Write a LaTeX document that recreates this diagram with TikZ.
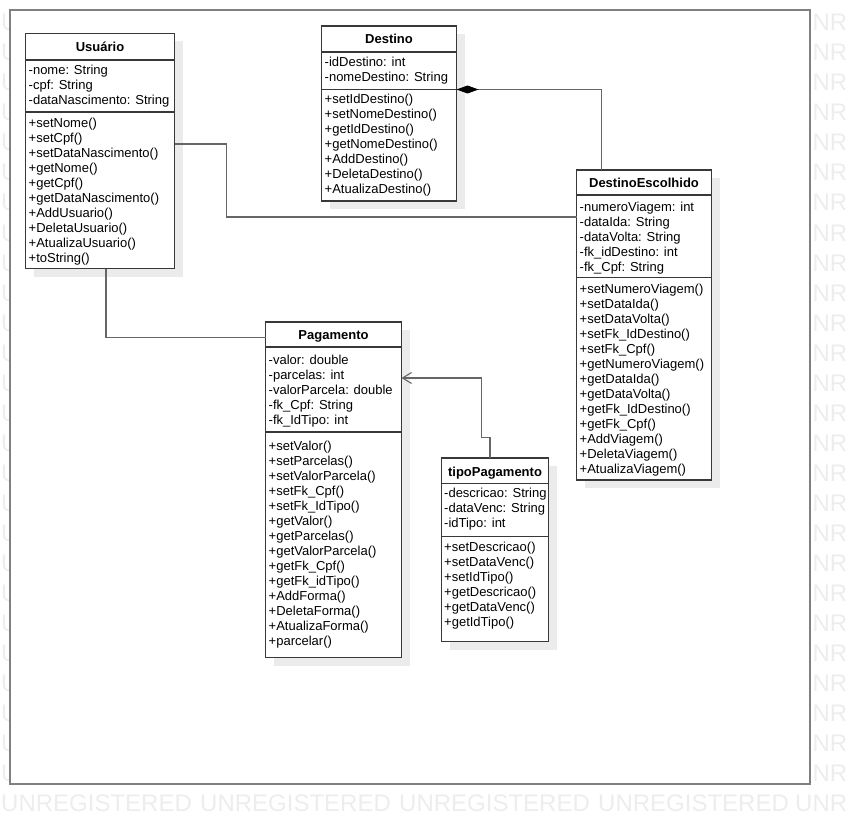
\documentclass[tikz,border=0pt]{standalone}
\usepackage{fontspec}
\setmainfont{Liberation Sans}
\usetikzlibrary{arrows.meta}

\tikzset{
  classbox/.style={draw=black!78, line width=1.1pt, fill=white, inner sep=0pt, outer sep=0pt, anchor=north west},
  classshadow/.style={fill=black!8},
  sepline/.style={draw=black!78, line width=1.1pt},
  member/.style={anchor=base west, inner sep=0pt, font=\fontsize{13}{15}\selectfont},
  classname/.style={anchor=base, inner sep=0pt, font=\fontsize{13}{15}\selectfont\bfseries},
  link/.style={draw=black!60, line width=1.1pt},
  frame/.style={draw=black!50, line width=1.8pt, fill=white},
  watermark/.style={anchor=base west, inner sep=0pt, text=black!7, font=\fontsize{24}{24}\selectfont},
}

% one member per line, 15pt apart, starting at the given baseline
\newcommand\memberlist[4]{%
  \foreach \txt [count=\n] in {#4}
    \node[member] (#1\n) at (#2,{#3+15*(\n-1)}) {\txt};}

\begin{document}
\begin{tikzpicture}[x=1pt,y=-1pt]
\useasboundingbox (0,0) rectangle (850,826);

% background watermark
\begin{scope}
  \clip (0,0) rectangle (850,826);
  \foreach \k in {0,...,25} {
    \node[watermark] (wmL\k) at (1,{31+30*\k}) {U};
    \node[watermark] (wmR\k) at (795,{31+30*\k}) {UNR};
  }
  \foreach \j in {0,...,3}
    \node[watermark] (wmB\j) at ({1+199*\j},811) {UNREGISTERED};
  \node[watermark] (wmB4) at (795,811) {UNR};
\end{scope}

% diagram frame
\draw[frame] (10,10) rectangle (810,784);

% ---------- Usuario ----------
\fill[classshadow] (33.5,41.5) rectangle (182.5,276.5);
\node[classbox, minimum width=149pt, minimum height=235pt] (usuario) at (25.5,33.5) {};
\draw[sepline] (25.5,60) -- (174.5,60);
\draw[sepline] (25.5,112) -- (174.5,112);
\node[classname] (usuarioT) at (100,51.3) {Usuário};
\memberlist{usuA}{28.5}{74.5}{-nome: String,-cpf: String,-dataNascimento: String}
\memberlist{usuM}{28.5}{127.8}{+setNome(),+setCpf(),+setDataNascimento(),+getNome(),+getCpf(),+getDataNascimento(),+AddUsuario(),+DeletaUsuario(),+AtualizaUsuario(),+toString()}

% ---------- Destino ----------
\fill[classshadow] (329.5,34) rectangle (464.5,209);
\node[classbox, minimum width=135pt, minimum height=175pt] (destino) at (321.5,26) {};
\draw[sepline] (321.5,52) -- (456.5,52);
\draw[sepline] (321.5,89.5) -- (456.5,89.5);
\node[classname] (destinoT) at (389,43.5) {Destino};
\memberlist{desA}{324.5}{66.5}{-idDestino: int,-nomeDestino: String}
\memberlist{desM}{324.5}{103.8}{+setIdDestino(),+setNomeDestino(),+getIdDestino(),+getNomeDestino(),+AddDestino(),+DeletaDestino(),+AtualizaDestino()}

% ---------- DestinoEscolhido ----------
\fill[classshadow] (584.5,178) rectangle (719.5,488);
\node[classbox, minimum width=135pt, minimum height=310pt] (destesc) at (576.5,170) {};
\draw[sepline] (576.5,195) -- (711.5,195);
\draw[sepline] (576.5,277.5) -- (711.5,277.5);
\node[classname] (destescT) at (644,187.5) {DestinoEscolhido};
\memberlist{escA}{579.5}{211.2}{-numeroViagem: int,-dataIda: String,-dataVolta: String,-fk\_idDestino: int,-fk\_Cpf: String}
\memberlist{escM}{579.5}{293.8}{+setNumeroViagem(),+setDataIda(),+setDataVolta(),+setFk\_IdDestino(),+setFk\_Cpf(),+getNumeroViagem(),+getDataIda(),+getDataVolta(),+getFk\_IdDestino(),+getFk\_Cpf(),+AddViagem(),+DeletaViagem(),+AtualizaViagem()}

% ---------- Pagamento ----------
\fill[classshadow] (273.5,330) rectangle (409.5,665.5);
\node[classbox, minimum width=136pt, minimum height=335.5pt] (pagamento) at (265.5,322) {};
\draw[sepline] (265.5,347) -- (401.5,347);
\draw[sepline] (265.5,432) -- (401.5,432);
\node[classname] (pagamentoT) at (333.5,339) {Pagamento};
\memberlist{pagA}{268.5}{364.5}{-valor: double,-parcelas: int,-valorParcela: double,-fk\_Cpf: String,-fk\_IdTipo: int}
\memberlist{pagM}{268.5}{450.5}{+setValor(),+setParcelas(),+setValorParcela(),+setFk\_Cpf(),+setFk\_IdTipo(),+getValor(),+getParcelas(),+getValorParcela(),+getFk\_Cpf(),+getFk\_idTipo(),+AddForma(),+DeletaForma(),+AtualizaForma(),+parcelar()}

% ---------- tipoPagamento ----------
\fill[classshadow] (449.5,466) rectangle (556.5,649.5);
\node[classbox, minimum width=107pt, minimum height=183.5pt] (tipo) at (441.5,458) {};
\draw[sepline] (441.5,483.5) -- (548.5,483.5);
\draw[sepline] (441.5,536.5) -- (548.5,536.5);
\node[classname] (tipoT) at (495,476) {tipoPagamento};
\memberlist{tipA}{444}{497.2}{-descricao: String,-dataVenc: String,-idTipo: int}
\memberlist{tipM}{444}{551.2}{+setDescricao(),+setDataVenc(),+setIdTipo(),+getDescricao(),+getDataVenc(),+getIdTipo()}

% ---------- relations ----------
\draw[link] ([yshift=-110.5pt]usuario.north east) -- ++(52.2,0) |- ([yshift=-47pt]destesc.north west);
\draw[link, {Diamond[length=22pt,width=8pt,color=black]}-] ([yshift=-63.5pt]destino.north east) -| ([xshift=25.2pt]destesc.north west);
\draw[link] ([xshift=80.5pt]usuario.south west) |- ([yshift=-15.5pt]pagamento.north west);
\draw[link, -{Straight Barb[length=9pt,width=11pt]}] ([xshift=48.5pt]tipo.north west) -- ++(0,-20.3) -- ++(-8.3,0) |- ([yshift=-56pt]pagamento.north east);
\end{tikzpicture}
\end{document}
